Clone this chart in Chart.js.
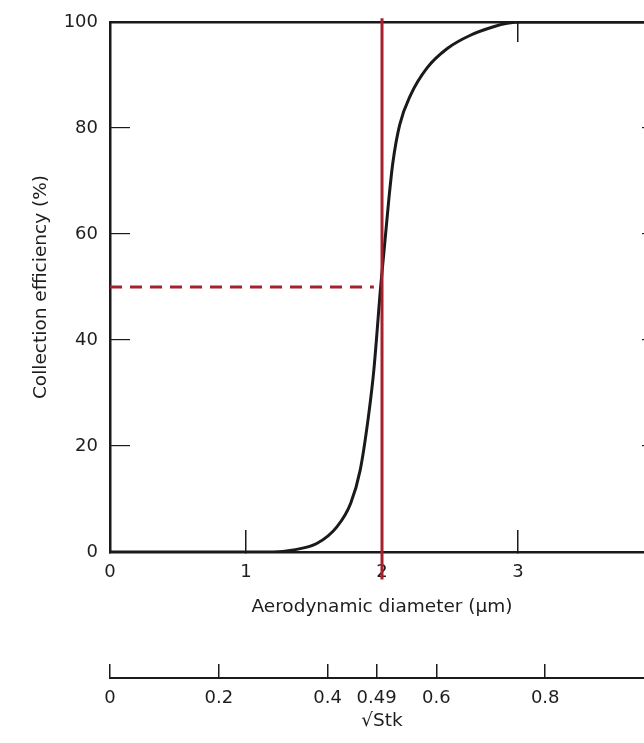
<!DOCTYPE html>
<html>
<head>
<meta charset="utf-8">
<title>Collection efficiency</title>
<script src="https://cdn.jsdelivr.net/npm/chart.js@4.4.1/dist/chart.umd.min.js"></script>
<style>
  html, body { margin: 0; padding: 0; background: #fff; overflow: hidden; }
</style>
</head>
<body>
<canvas id="myChart" width="664" height="743"></canvas>
<script>
// curve
const diameter = [0, 1.2, 1.35, 1.52, 1.67, 1.77, 1.84, 1.9, 1.94, 1.99, 2.05, 2.08, 2.13, 2.21, 2.33, 2.48, 2.65, 2.82, 2.92, 3.02, 3.3, 4];
const efficiency = [0, 0, 0.4, 1.6, 4.8, 9.2, 15.5, 25.5, 34.3, 50, 66.5, 73.5, 80.6, 86.2, 91.3, 95, 97.5, 99.1, 99.75, 100, 100, 100];

const cutoffDiameter = 2;
const cutoffEfficiency = 50;

const efficiencyTicks = [0, 20, 40, 60, 80, 100];
const diameterTicks = [0, 1, 2, 3, 4];
const topTicks = [2, 3];
const rightTicks = [20, 40, 60, 80];
const sqrtStkTicks = [0, 0.2, 0.4, 0.49, 0.6, 0.8, 1.0];

const ink = '#1a1a1a';
const red = '#a6202e';
const font = { family: 'DejaVu Sans', size: 18 };
const titleFont = { family: 'DejaVu Sans', size: 18.5 };

function setTicks(list) {
    return function (scale) {
        scale.ticks = list.map(function (v) { return { value: v }; });
    };
}

// fixed box sizes so the plot frame sits where it does in the scan
function fixSize(prop, n) {
    return function (s) {
        s[prop] = n;
        s.paddingLeft = 0;
        s.paddingRight = 0;
        s.paddingTop = 0;
        s.paddingBottom = 0;
    };
}

var ctx = document.getElementById('myChart');
var myChart = new Chart(ctx, {
    type: 'line',
    data: {
        datasets: [
            {
                // cut-off diameter marker
                data: [{ x: cutoffDiameter, y: -5.2 }, { x: cutoffDiameter, y: 100.7 }],
                borderColor: red,
                borderWidth: 3,
                pointRadius: 0,
                clip: false
            },
            {
                data: [{ x: 0, y: cutoffEfficiency }, { x: cutoffDiameter - 0.06, y: cutoffEfficiency }],
                borderColor: red,
                borderWidth: 3,
                borderDash: [12, 8],
                pointRadius: 0
            },
            {
                data: diameter.map(function (d, i) { return { x: d, y: efficiency[i] }; }),
                borderColor: ink,
                borderWidth: 3,
                pointRadius: 0,
                cubicInterpolationMode: 'monotone'
            }
        ]
    },
    options: {
        responsive: false,
        animation: false,
        layout: { padding: 0 },
        plugins: {
            legend: { display: false },
            tooltip: { enabled: false }
        },
        scales: {
            x: {
                type: 'linear',
                position: 'bottom',
                min: 0,
                max: 4,
                afterBuildTicks: setTicks(diameterTicks),
                afterFit: fixSize('height', 126),
                border: { display: true, color: ink, width: 2.5 },
                grid: { drawOnChartArea: false, tickLength: -22, color: ink, lineWidth: 1.5 },
                ticks: { color: '#1e1e1e', font: font, padding: 32, maxRotation: 0 },
                title: {
                    display: true,
                    text: 'Aerodynamic diameter (µm)',
                    color: '#1e1e1e',
                    font: titleFont,
                    padding: { top: 0, bottom: 60 }
                }
            },
            x2: {
                type: 'linear',
                position: 'bottom',
                min: 0,
                max: 1,
                afterBuildTicks: setTicks(sqrtStkTicks),
                afterFit: fixSize('height', 65),
                border: { display: true, color: ink, width: 2 },
                grid: { drawOnChartArea: false, tickLength: -14, color: ink, lineWidth: 1.5 },
                ticks: {
                    color: '#1e1e1e',
                    font: font,
                    padding: 24,
                    maxRotation: 0,
                    autoSkip: false,
                    callback: function (v) { return String(v); }
                },
                title: {
                    display: true,
                    text: '√Stk',
                    color: '#1e1e1e',
                    font: titleFont,
                    padding: { top: 0, bottom: 11 }
                }
            },
            xTop: {
                type: 'linear',
                position: 'top',
                min: 0,
                max: 4,
                afterBuildTicks: setTicks(topTicks),
                afterFit: fixSize('height', 22),
                border: { display: true, color: ink, width: 2.5 },
                grid: { drawOnChartArea: false, tickLength: -20, color: ink, lineWidth: 1.5 },
                ticks: { display: false }
            },
            y: {
                type: 'linear',
                position: 'left',
                min: 0,
                max: 100,
                afterBuildTicks: setTicks(efficiencyTicks),
                afterFit: fixSize('width', 110),
                border: { display: true, color: ink, width: 2.5 },
                grid: { drawOnChartArea: false, tickLength: -20, color: ink, lineWidth: 1.2 },
                ticks: { color: '#1e1e1e', font: font, padding: 32 },
                title: {
                    display: true,
                    text: 'Collection efficiency (%)',
                    color: '#1e1e1e',
                    font: titleFont,
                    padding: { top: 30, bottom: 0 }
                }
            },
            yRight: {
                type: 'linear',
                position: 'right',
                min: 0,
                max: 100,
                afterBuildTicks: setTicks(rightTicks),
                afterFit: fixSize('width', 10),
                border: { display: true, color: ink, width: 2.5 },
                grid: { drawOnChartArea: false, tickLength: -12, color: ink, lineWidth: 1.2 },
                ticks: { display: false }
            }
        }
    }
});
</script>
</body>
</html>
